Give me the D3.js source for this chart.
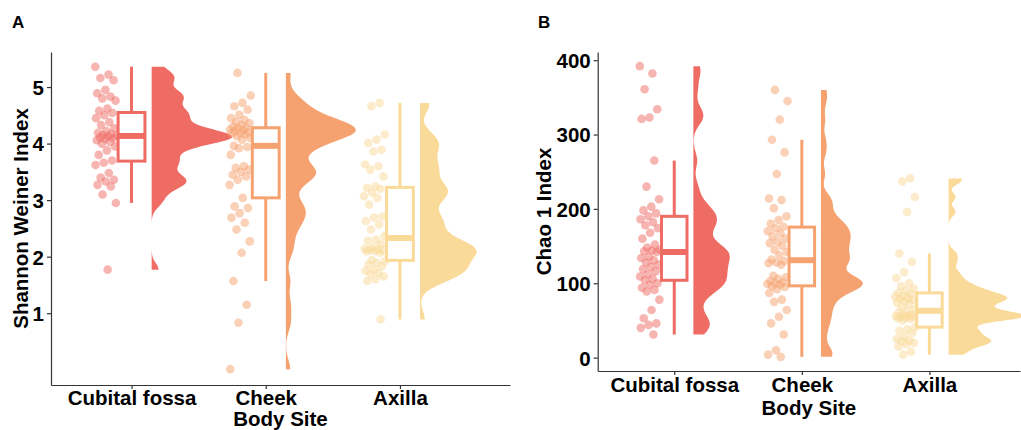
<!DOCTYPE html>
<html>
<head>
<meta charset="utf-8">
<script src="https://cdn.jsdelivr.net/npm/d3@7"></script>
<style>
  body { margin: 0; background: #fff; }
  svg { display: block; font-family: "Liberation Sans", Arial, sans-serif; }
</style>
</head>
<body>
<svg id="chart" width="1021" height="430"></svg>
<script>
// categories and colours
const sites = ["Cubital fossa", "Cheek", "Axilla"];
const siteColors = ["#EF6C65", "#F5A270", "#F9DA98"];

// Shannon Weiner index per body site
const shannonCubital = [5.36, 5.22, 5.16, 5.12, 4.95, 4.89, 4.83, 4.80, 4.76, 4.62, 4.58,
    4.54, 4.50, 4.45, 4.38, 4.33, 4.27, 4.22, 4.19, 4.17, 4.15, 4.14,
    4.13, 4.11, 4.10, 4.08, 4.06, 4.03, 4.00, 3.95, 3.88, 3.80, 3.70,
    3.66, 3.62, 3.48, 3.40, 3.36, 3.33, 3.27, 3.24, 3.10, 2.95, 1.77];
const shannonCheek = [5.25, 4.85, 4.72, 4.66, 4.60, 4.51, 4.45, 4.42, 4.38, 4.36,
    4.33, 4.30, 4.28, 4.27, 4.25, 4.24, 4.22, 4.20, 4.19, 4.18,
    4.16, 4.13, 4.10, 4.07, 3.96, 3.94, 3.92, 3.80, 3.60, 3.57,
    3.54, 3.50, 3.45, 3.42, 3.36, 3.27, 3.04, 2.89, 2.86, 2.77,
    2.69, 2.60, 2.48, 2.27, 2.07, 1.57, 1.15, 0.83, 0.01];
const shannonAxilla = [4.72, 4.66, 4.16, 4.07, 4.01, 3.89, 3.86, 3.63, 3.60, 3.54,
    3.42, 3.24, 3.22, 3.20, 3.13, 3.07, 3.04, 2.92, 2.71, 2.69,
    2.63, 2.57, 2.48, 2.36, 2.30, 2.28, 2.22, 2.16, 2.14, 2.13,
    2.12, 2.11, 2.10, 2.09, 2.07, 1.94, 1.92, 1.89, 1.86, 1.83,
    1.77, 1.75, 1.71, 1.69, 1.65, 1.60, 1.57, 0.89];

// Chao 1 index per body site
const chaoCubital = [392, 382, 361, 334, 323, 321, 265, 230, 213, 203,
    198, 194, 190, 186, 182, 178, 174, 168, 160, 152,
    148, 145, 144, 143, 142, 136, 134, 131, 128, 125,
    122, 119, 116, 112, 109, 106, 104, 100, 98, 94,
    91, 89, 78, 64, 53, 46, 44, 40, 31];
const chaoCheek = [360, 345, 320, 293, 276, 247, 214, 212, 201, 190,
    185, 180, 176, 174, 170, 167, 163, 160, 156, 154,
    150, 145, 142, 138, 132, 130, 128, 127, 125, 110,
    108, 106, 103, 101, 100, 99, 98, 96, 95, 92,
    87, 78, 75, 64, 55, 46, 31, 10, 4, 1];
const chaoAxilla = [241, 237, 216, 196, 140, 129, 115, 107, 100, 96,
    93, 90, 87, 85, 83, 82, 80, 79, 78, 76,
    74, 72, 68, 65, 63, 61, 58, 57, 56, 56,
    55, 55, 54, 53, 52, 50, 41, 38, 36, 33,
    28, 25, 23, 22, 20, 18, 15, 8, 4];

const shannonTicks = [1, 2, 3, 4, 5];
const chaoTicks = [0, 100, 200, 300, 400];

const svg = d3.select("#chart");
const AXIS_COLOR = "#333333";

/**
 * Gaussian kernel density, bandwidth = adjust * bw.nrd0 (like R)
 */
function kde(values, adjust, steps) {
    const sorted = values.slice().sort(d3.ascending);
    const n = sorted.length;
    const iqr = d3.quantileSorted(sorted, 0.75) - d3.quantileSorted(sorted, 0.25);
    const spread = Math.min(d3.deviation(sorted), iqr / 1.34);
    const bw = adjust * 0.9 * spread * Math.pow(n, -0.2);
    const lo = sorted[0], hi = sorted[n - 1];
    const out = [];
    for (let k = 0; k <= steps; k++) {
        const v = lo + (hi - lo) * k / steps;
        let s = 0;
        for (const d of sorted) {
            const u = (v - d) / bw;
            s += Math.exp(-0.5 * u * u);
        }
        out.push({ v: v, dens: s / (n * bw * Math.sqrt(2 * Math.PI)) });
    }
    return out;
}

function boxStats(values) {
    const sorted = values.slice().sort(d3.ascending);
    const q1 = d3.quantileSorted(sorted, 0.25);
    const med = d3.quantileSorted(sorted, 0.5);
    const q3 = d3.quantileSorted(sorted, 0.75);
    const iqr = q3 - q1;
    const lowWhisk = d3.min(sorted.filter((d) => d >= q1 - 1.5 * iqr));
    const highWhisk = d3.max(sorted.filter((d) => d <= q3 + 1.5 * iqr));
    return { q1, med, q3, lowWhisk, highWhisk };
}

function drawPanel(cfg) {
    const g = svg.append("g");
    const x = d3.scaleLinear().domain(cfg.xDomain).range([cfg.left, cfg.right]);
    const y = d3.scaleLinear().domain(cfg.yDomain).range([cfg.bottom, cfg.top]);
    const unit = x(1) - x(0);

    // densities, scaled by area across the whole panel
    const densities = cfg.groups.map((vals) => kde(vals, 0.42, 400));
    const maxDens = d3.max(densities, (dd) => d3.max(dd, (p) => p.dens));

    // half violins
    densities.forEach((dd, gi) => {
        const x0 = x(gi + 1) + 0.15 * unit;
        const area = d3.area()
                       .x0(x0)
                       .x1((p) => x0 + p.dens / maxDens * 0.6 * unit)
                       .y((p) => y(p.v));
        g.append("path")
         .attr("d", area(dd))
         .style("fill", siteColors[gi])
         .style("stroke", "none");
    });

    // jittered points
    cfg.groups.forEach((vals, gi) => {
        g.append("g")
         .selectAll("circle")
         .data(vals)
         .join("circle")
         .attr("cx", (d, i) => {
             const j = ((i * 0.618034 + gi * 0.37) % 1) - 0.5;
             return x(gi + 1) + (-0.19 + j * 0.16) * unit;
         })
         .attr("cy", (d) => y(d))
         .attr("r", 4.3)
         .style("fill", siteColors[gi])
         .style("fill-opacity", 0.5);
    });

    // boxplots
    cfg.groups.forEach((vals, gi) => {
        const s = boxStats(vals);
        const cx = x(gi + 1);
        const hw = 0.1 * unit;
        const bg = g.append("g")
                    .style("stroke", siteColors[gi])
                    .style("stroke-width", 3);
        bg.append("line")
          .attr("x1", cx).attr("x2", cx)
          .attr("y1", y(s.highWhisk)).attr("y2", y(s.lowWhisk));
        bg.append("rect")
          .attr("x", cx - hw)
          .attr("width", 2 * hw)
          .attr("y", y(s.q3))
          .attr("height", y(s.q1) - y(s.q3))
          .style("fill", "white");
        bg.append("line")
          .attr("x1", cx - hw).attr("x2", cx + hw)
          .attr("y1", y(s.med)).attr("y2", y(s.med))
          .style("stroke-width", 6);
    });

    // axes
    const yAxis = g.append("g")
                   .attr("transform", "translate(" + cfg.left + ",0)")
                   .call(d3.axisLeft(y).tickValues(cfg.ticks).tickSize(4).tickSizeOuter(0)
                           .tickPadding(3).tickFormat(d3.format("d")));
    const xAxis = g.append("g")
                   .attr("transform", "translate(0," + cfg.bottom + ")")
                   .call(d3.axisBottom(x).tickValues([1, 2, 3]).tickSize(4).tickSizeOuter(0)
                           .tickFormat((d) => sites[d - 1]));
    for (const ax of [yAxis, xAxis]) {
        ax.select(".domain").style("stroke", AXIS_COLOR).style("stroke-width", 1.2);
        ax.selectAll(".tick line").style("stroke", AXIS_COLOR).style("stroke-width", 1.2);
        ax.selectAll("text")
          .style("font-family", "Liberation Sans, Arial, sans-serif")
          .style("font-weight", "bold")
          .style("font-size", "20.5px")
          .style("fill", "#000");
    }
    yAxis.selectAll("text").attr("dy", "0.36em");
    xAxis.selectAll("text").attr("dy", null).attr("y", cfg.xLabelY);

    // axis titles
    g.append("text")
     .attr("transform", "translate(" + cfg.yTitleX + "," + ((cfg.top + cfg.bottom) / 2) + ") rotate(-90)")
     .attr("text-anchor", "middle")
     .style("font-weight", "bold")
     .style("font-size", "20.5px")
     .text(cfg.yTitle);
    g.append("text")
     .attr("x", (cfg.left + cfg.right) / 2)
     .attr("y", cfg.xTitleY)
     .attr("text-anchor", "middle")
     .style("font-weight", "bold")
     .style("font-size", "20.5px")
     .text("Body Site");

    // panel letter
    g.append("text")
     .attr("x", cfg.letterX)
     .attr("y", 28)
     .style("font-weight", "bold")
     .style("font-size", "17px")
     .text(cfg.letter);
}

drawPanel({
    letter: "A", letterX: 12,
    groups: [shannonCubital, shannonCheek, shannonAxilla],
    ticks: shannonTicks,
    xDomain: [0.4, 3.82], yDomain: [-0.27, 5.62],
    left: 51, right: 510, top: 52, bottom: 385,
    yTitle: "Shannon Weiner Index", yTitleX: 28,
    xLabelY: 20, xTitleY: 426
});

drawPanel({
    letter: "B", letterX: 538,
    groups: [chaoCubital, chaoCheek, chaoAxilla],
    ticks: chaoTicks,
    xDomain: [0.4, 3.71], yDomain: [-18, 411],
    left: 597.7, right: 1020, top: 52, bottom: 371,
    yTitle: "Chao 1 Index", yTitleX: 551,
    xLabelY: 21, xTitleY: 415
});
</script>
</body>
</html>
